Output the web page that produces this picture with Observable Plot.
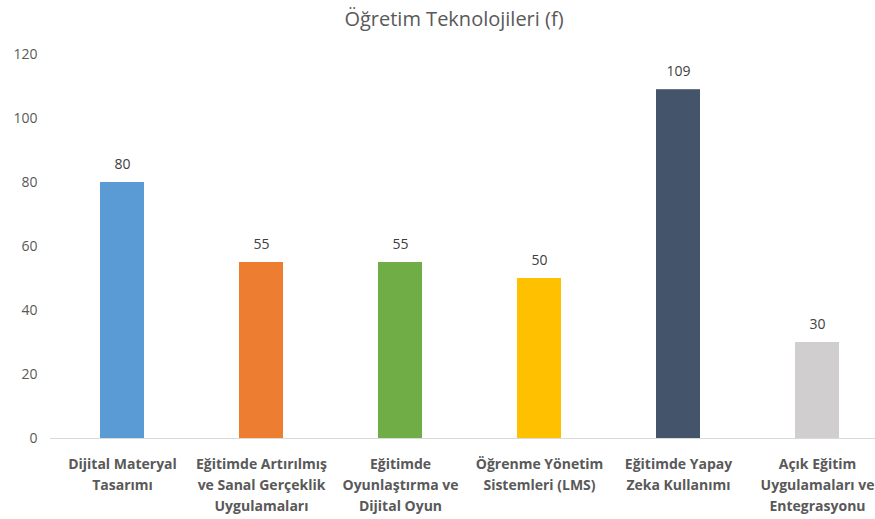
<!DOCTYPE html>
<html>
<head>
<meta charset="utf-8">
<script src="https://cdn.jsdelivr.net/npm/d3@7"></script>
<script src="https://cdn.jsdelivr.net/npm/@observablehq/plot@0.6"></script>
<style>
  html, body { margin: 0; padding: 0; background: #fff; overflow: hidden; }
  #wrap { width: 875px; height: 519px; overflow: hidden; position: relative; font-family: "Open Sans", sans-serif; }
  #title { width: 908px; height: 40px; text-align: center; font-size: 20px; color: #595959; line-height: 38px; }
  #chart svg { max-width: none !important; }
</style>
</head>
<body>
<div id="wrap">
  <div id="title">Öğretim Teknolojileri (f)</div>
  <div id="chart"></div>
</div>
<script>
const categories = [
  "Dijital Materyal Tasarımı",
  "Eğitimde Artırılmış ve Sanal Gerçeklik Uygulamaları",
  "Eğitimde Oyunlaştırma ve Dijital Oyun",
  "Öğrenme Yönetim Sistemleri (LMS)",
  "Eğitimde Yapay Zeka Kullanımı",
  "Açık Eğitim Uygulamaları ve Entegrasyonu"
];
const values = [80, 55, 55, 50, 109, 30];
const colors = ["#5B9BD5", "#ED7D31", "#70AD47", "#FFC000", "#44546A", "#D0CECE"];
const tickLabels = [
  "Dijital Materyal\nTasarımı",
  "Eğitimde Artırılmış\nve Sanal Gerçeklik\nUygulamaları",
  "Eğitimde\nOyunlaştırma ve\nDijital Oyun",
  "Öğrenme Yönetim\nSistemleri (LMS)",
  "Eğitimde Yapay\nZeka Kullanımı",
  "Açık Eğitim\nUygulamaları ve\nEntegrasyonu"
];
const yTicks = [0, 20, 40, 60, 80, 100, 120];

const data = categories.map((c, i) => ({category: c, value: values[i], color: colors[i], label: tickLabels[i]}));
const labelOf = new Map(data.map(d => [d.category, d.label]));

const chart = Plot.plot({
  width: 908,
  height: 479,
  marginLeft: 50,
  marginRight: 20,
  marginTop: 14,
  marginBottom: 81,
  style: {fontFamily: "'Open Sans', sans-serif", fontSize: "13px", color: "#595959", background: "#fff", maxWidth: "none"},
  x: {domain: categories, paddingInner: 0.685, paddingOuter: 0.3425, label: null},
  y: {domain: [0, 120], label: null},
  marks: [
    Plot.axisY({ticks: yTicks, tickSize: 0, tickPadding: 13, fontSize: 14, fill: "#595959", label: null}),
    Plot.axisX({tickSize: 0, tickPadding: 16, tickFormat: d => labelOf.get(d), fontWeight: "bold", fontSize: 14, fill: "#595959", lineHeight: 1.5, label: null}),
    Plot.barY(data, {x: "category", y: "value", fill: "color"}),
    Plot.ruleY([0], {stroke: "#d9d9d9", strokeWidth: 1}),
    Plot.text(data, {x: "category", y: "value", text: d => String(d.value), dy: -18, fontSize: 14, fill: "#404040"})
  ]
});
document.getElementById("chart").appendChild(chart);
</script>
</body>
</html>
